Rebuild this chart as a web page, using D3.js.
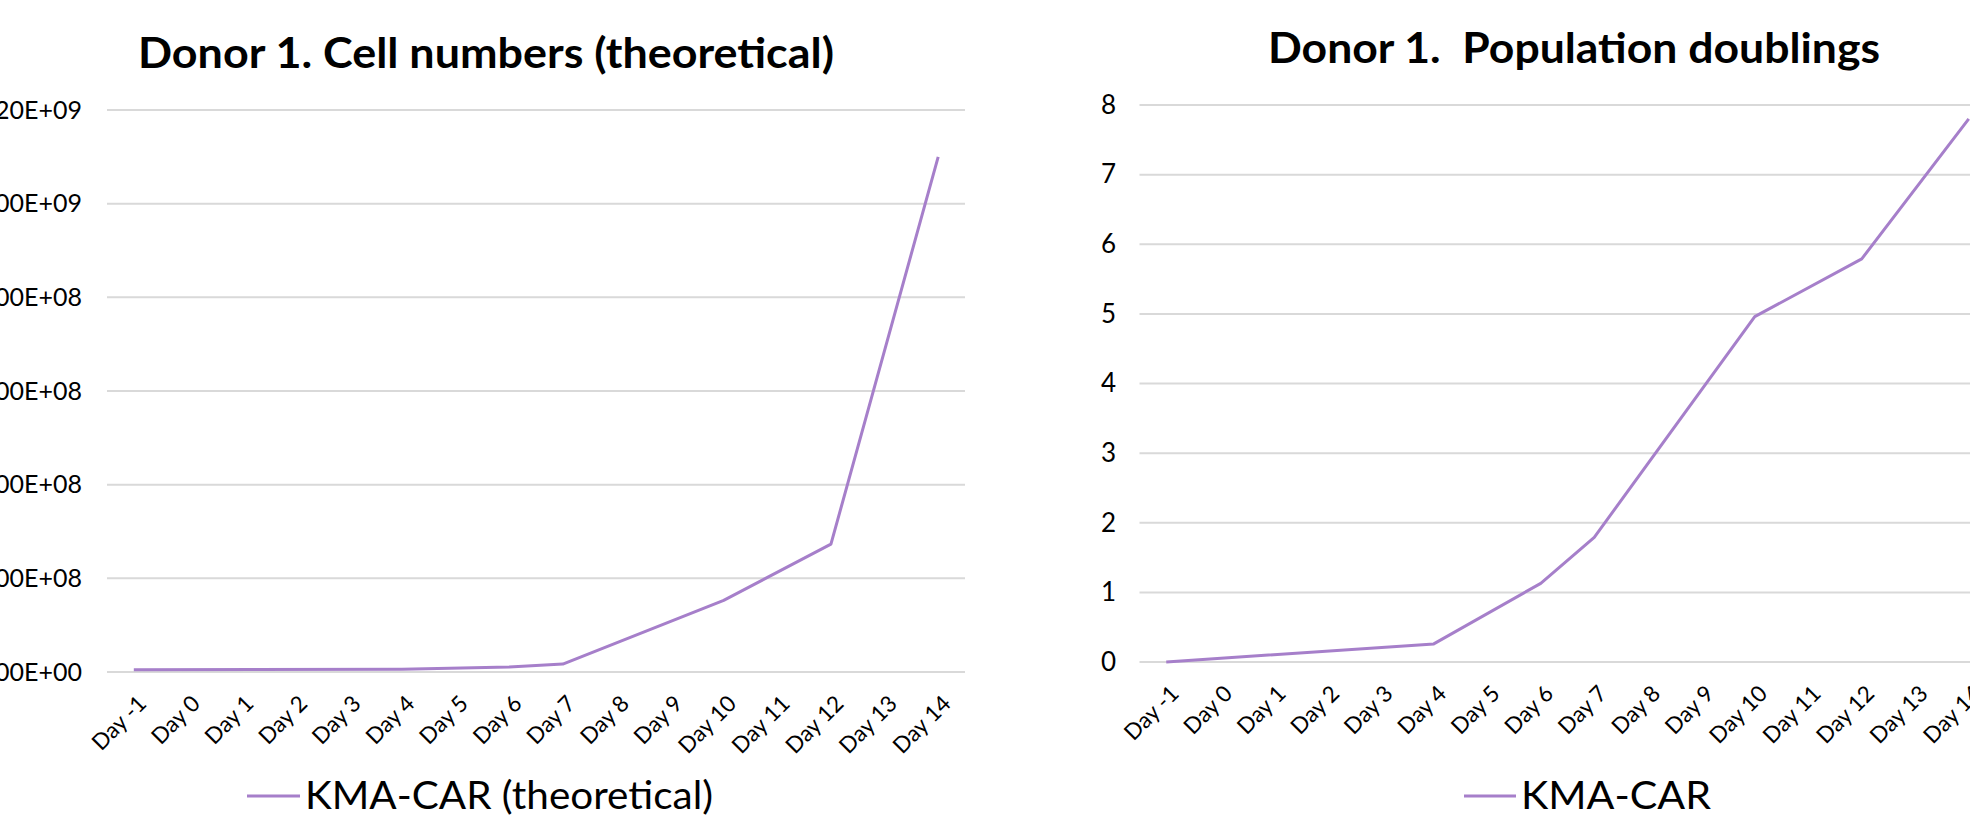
<!DOCTYPE html>
<html>
<head>
<meta charset="utf-8">
<script src="https://cdn.jsdelivr.net/npm/d3@7"></script>
<style>
  html, body { margin: 0; padding: 0; background: #fff; overflow: hidden; }
  svg { display: block; }
</style>
</head>
<body>
<svg id="chart" width="1970" height="817"></svg>
<script>
// Sampling days (x categories)
const days = ["Day -1", "Day 0", "Day 1", "Day 2", "Day 3", "Day 4", "Day 5", "Day 6",
              "Day 7", "Day 8", "Day 9", "Day 10", "Day 11", "Day 12", "Day 13", "Day 14"];

// Theoretical cell numbers per day (null = not counted that day)
const cellNumbers = [4.9e6, null, null, null, null, 5.9e6, null, 1.08e7,
                     1.7e7, null, null, 1.53e8, null, 2.73e8, null, 1.10e9];

// Cumulative population doublings per day
const populationDoublings = [0, null, null, null, null, 0.26, null, 1.13,
                             1.79, null, null, 4.96, null, 5.79, null, 7.80];

// Axis ticks
const cellTicks = [0, 2e8, 4e8, 6e8, 8e8, 1e9, 1.2e9];
const doublingTicks = [0, 1, 2, 3, 4, 5, 6, 7, 8];

// Titles and legend entries
const titles = ["Donor 1. Cell numbers (theoretical)", "Donor 1.  Population doublings"];
const seriesNames = ["KMA-CAR (theoretical)", "KMA-CAR"];

const LINE_COLOR = "#a67fca";
const GRID_COLOR = "#d9d9d9";

// Scientific notation in the "1.20E+09" style
function sciFormat(v) {
  const [m, e] = v.toExponential(2).split("e");
  const sign = e[0] === "-" ? "-" : "+";
  const digits = e.replace(/[+-]/, "").padStart(2, "0");
  return m + "E" + sign + digits;
}

const svg = d3.select("#chart");

function drawPanel(cfg) {
  const g = svg.append("g");

  const x = d3.scaleBand().domain(days).range(cfg.xRange);
  const y = d3.scaleLinear().domain(cfg.yDomain).range(cfg.yRange);

  // Horizontal gridlines
  g.append("g")
    .selectAll("line")
    .data(cfg.ticks)
    .join("line")
    .attr("x1", cfg.xRange[0])
    .attr("x2", cfg.xRange[1])
    .attr("y1", d => y(d))
    .attr("y2", d => y(d))
    .attr("stroke", GRID_COLOR)
    .attr("stroke-width", 2);

  // Y axis labels (no axis line)
  const yAxis = d3.axisLeft(y).tickValues(cfg.ticks).tickFormat(cfg.format).tickSize(0).tickPadding(0);
  const ya = g.append("g")
    .attr("transform", `translate(${cfg.yLabelX},0)`)
    .call(yAxis);
  ya.select(".domain").remove();
  ya.selectAll("text")
    .attr("font-family", "Lato, 'Open Sans', sans-serif")
    .attr("font-size", cfg.yFontSize)
    .attr("fill", "#000");

  // X axis labels, rotated
  const xa = g.append("g")
    .attr("transform", `translate(0,${cfg.yRange[0]})`)
    .call(d3.axisBottom(x).tickSize(0).tickPadding(0));
  xa.select(".domain").remove();
  xa.selectAll("text")
    .attr("font-family", "Lato, 'Open Sans', sans-serif")
    .attr("font-size", 22.5)
    .attr("fill", "#000")
    .attr("text-anchor", "end")
    .attr("dy", null)
    .attr("y", 0)
    .attr("transform", "translate(14,33) rotate(-45)");

  // Series line through the measured days
  const pts = days.map((d, i) => ({ day: d, v: cfg.values[i] })).filter(p => p.v !== null);
  const line = d3.line()
    .x(p => x(p.day) + x.bandwidth() / 2)
    .y(p => y(p.v));
  g.append("path")
    .datum(pts)
    .attr("d", line)
    .attr("fill", "none")
    .attr("stroke", LINE_COLOR)
    .attr("stroke-width", 3)
    .attr("stroke-linejoin", "round");

  // Title
  g.append("text")
    .attr("x", cfg.titleX)
    .attr("y", cfg.titleY)
    .attr("font-family", "Lato, 'Open Sans', sans-serif")
    .attr("font-weight", 700)
    .attr("font-size", 42)
    .attr("textLength", cfg.titleWidth)
    .attr("lengthAdjust", "spacingAndGlyphs")
    .style("white-space", "pre")
    .text(cfg.title);

  // Legend
  const lg = g.append("g").attr("transform", `translate(${cfg.legendX},796)`);
  lg.append("line")
    .attr("x1", 0).attr("x2", cfg.legendLine)
    .attr("y1", 0).attr("y2", 0)
    .attr("stroke", LINE_COLOR)
    .attr("stroke-width", 3);
  lg.append("text")
    .attr("x", cfg.legendLine + 5)
    .attr("y", 13)
    .attr("font-family", "Lato, 'Open Sans', sans-serif")
    .attr("font-size", 38)
    .attr("textLength", cfg.legendWidth)
    .attr("lengthAdjust", "spacingAndGlyphs")
    .text(cfg.series);
}

drawPanel({
  values: cellNumbers,
  ticks: cellTicks,
  format: sciFormat,
  yDomain: [0, 1.2e9],
  xRange: [107, 965],
  yRange: [672, 110],
  yLabelX: 82,
  yFontSize: 25,
  title: titles[0],
  titleX: 138, titleY: 68, titleWidth: 696,
  series: seriesNames[0],
  legendX: 247, legendLine: 53, legendWidth: 408
});

drawPanel({
  values: populationDoublings,
  ticks: doublingTicks,
  format: d3.format("d"),
  yDomain: [0, 8],
  xRange: [1139.5, 1995.5],
  yRange: [662, 105],
  yLabelX: 1116,
  yFontSize: 26,
  title: titles[1],
  titleX: 1268, titleY: 63, titleWidth: 612,
  series: seriesNames[1],
  legendX: 1464, legendLine: 52, legendWidth: 190
});
</script>
</body>
</html>
